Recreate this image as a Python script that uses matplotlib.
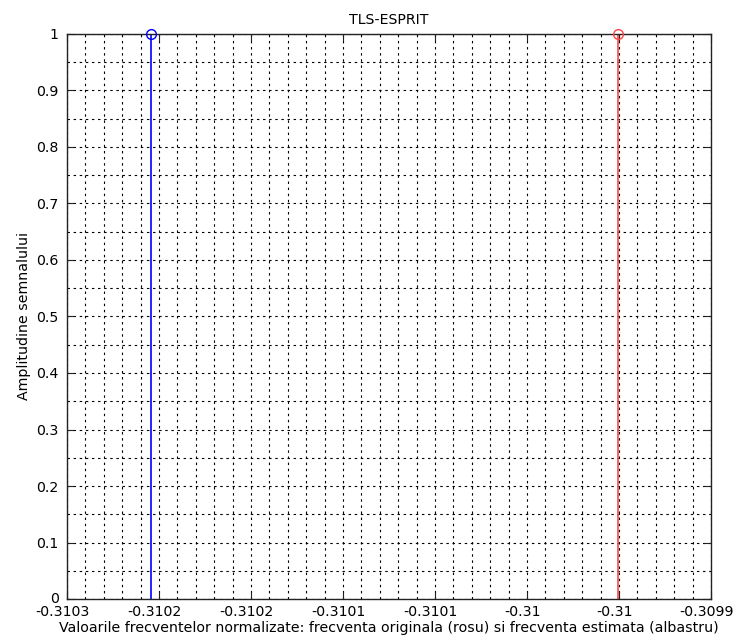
import numpy as np
import matplotlib.pyplot as plt
import matplotlib.transforms as mtransforms
from matplotlib.ticker import FixedLocator

plt.rcParams['font.family'] = ['DejaVu Sans']

# data
freq_original = [-0.309958]    # red
freq_estimated = [-0.310248]   # blue
amp_original = [1.0]
amp_estimated = [1.0]

x_min, x_max = -0.31030, -0.30990
x_tick_labels = ['-0.3103', '-0.3102', '-0.3102', '-0.3101',
                 '-0.3101', '-0.31', '-0.31', '-0.3099']
y_ticks = [0, 0.1, 0.2, 0.3, 0.4, 0.5, 0.6, 0.7, 0.8, 0.9, 1]
y_tick_labels = ['0', '0.1', '0.2', '0.3', '0.4', '0.5',
                 '0.6', '0.7', '0.8', '0.9', '1']

FS = 10.2

fig = plt.figure(figsize=(7.35, 6.41), dpi=100)
ax = fig.add_axes([0.0912, 0.0655, 0.8762, 0.8815])

m, s, b = ax.stem(freq_original, amp_original, basefmt=' ')
plt.setp(s, color='#ff4444', linewidth=1.2)
plt.setp(m, markerfacecolor='none', markeredgecolor='#ff4444',
         markersize=7, markeredgewidth=1.0, clip_on=False, zorder=5)

m, s, b = ax.stem(freq_estimated, amp_estimated, basefmt=' ')
plt.setp(s, color='#0000ff', linewidth=1.2)
plt.setp(m, markerfacecolor='none', markeredgecolor='#0000ff',
         markersize=7, markeredgewidth=1.0, clip_on=False, zorder=5)

ax.set_xlim(x_min, x_max)
ax.set_ylim(0, 1)

x_ticks = np.linspace(x_min, x_max, len(x_tick_labels))
ax.set_xticks(x_ticks)
ax.set_xticklabels(x_tick_labels)
ax.set_yticks(y_ticks)
ax.set_yticklabels(y_tick_labels)

ax.xaxis.set_minor_locator(FixedLocator(np.linspace(x_min, x_max, 5 * (len(x_tick_labels) - 1) + 1)))
ax.yaxis.set_minor_locator(FixedLocator(np.arange(0, 1.0001, 0.05)))

ax.tick_params(which='major', direction='in', length=5, width=0.8,
               top=True, right=True, labelsize=FS, colors='#222222',
               labelcolor='black')
ax.tick_params(axis='y', which='major', pad=6)
ax.tick_params(axis='x', which='major', pad=4)
ax.tick_params(which='minor', length=0)

# x labels sit a few pixels left of their ticks, like in the original
shift = mtransforms.ScaledTranslation(-5 / 100, 0, fig.dpi_scale_trans)
for lab in ax.get_xticklabels():
    lab.set_transform(lab.get_transform() + shift)
# the lowest y label is lifted a touch so it clears the x labels
lift = mtransforms.ScaledTranslation(0, 2 / 100, fig.dpi_scale_trans)
lab0 = ax.get_yticklabels()[0]
lab0.set_transform(lab0.get_transform() + lift)

grid_style = dict(color='black', linestyle=(0, (2.2, 3.3)), linewidth=0.8)
ax.grid(True, which='major', **grid_style)
ax.grid(True, which='minor', **grid_style)
ax.set_axisbelow(True)

for sp in ax.spines.values():
    sp.set_linewidth(1.0)
    sp.set_color('#222222')

ax.set_title('TLS-ESPRIT', fontsize=FS, pad=7)
ax.set_xlabel('Valoarile frecventelor normalizate: frecventa originala (rosu) si frecventa estimata (albastru)',
              fontsize=FS, labelpad=2)
ax.set_ylabel('Amplitudine semnalului', fontsize=FS, labelpad=4)

fig.savefig('out.png', dpi=100)
